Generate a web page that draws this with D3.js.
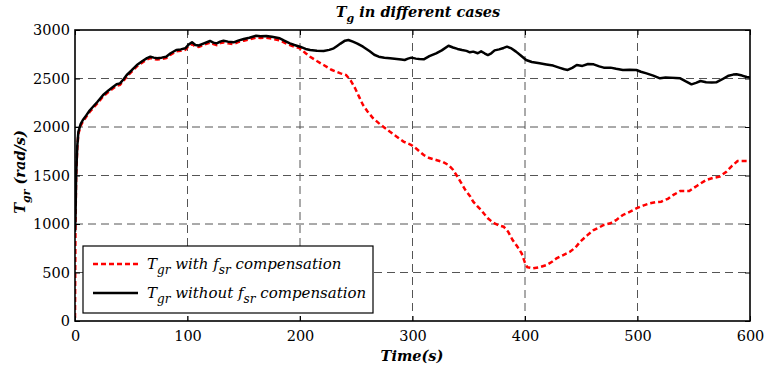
<!DOCTYPE html>
<html>
<head>
<meta charset="utf-8">
<script src="https://cdn.jsdelivr.net/npm/d3@7"></script>
<style>
  body { margin: 0; background: #fff; }
  svg { display: block; }
</style>
</head>
<body>
<svg id="svg" width="765" height="371"></svg>
<script>
// T_gr without f_sr compensation (black)
var timeWithout = [0,0.5,1,2,3,5,7,10,13,16,20,25,30,34,37,40,43,46,50,55,60,64,67,70,73,77,81,85,90,94,98,101,104,107,110,114,120,123,126,129,132,136,141,145,150,155,161,165,170,175,182,186,191,195,200,205,209,215,221,226,230,233,236,240,243,247,251,256,262,266,270,275,280,286,290,293,296,299,303,306,310,315,321,326,332,336,340,344,348,351,354,358,361,364,367,370,373,377,381,384,388,392,396,401,406,413,419,425,431,435,438,442,446,451,456,461,466,470,476,481,487,493,499,503,508,514,520,525,529,534,538,543,548,552,556,561,566,570,575,581,585,588,593,597,600];
var valuesWithout = [920,1100,1500,1800,1950,2030,2072,2120,2170,2209,2260,2330,2380,2415,2440,2450,2490,2536,2580,2639,2680,2710,2725,2715,2708,2715,2725,2760,2794,2800,2811,2850,2873,2845,2840,2860,2887,2870,2862,2880,2890,2880,2873,2890,2907,2920,2941,2935,2938,2930,2914,2890,2862,2845,2828,2805,2794,2785,2784,2795,2811,2835,2860,2890,2897,2880,2860,2828,2780,2745,2725,2715,2708,2700,2695,2691,2705,2715,2705,2700,2698,2730,2760,2790,2838,2820,2805,2794,2785,2770,2777,2760,2780,2760,2742,2760,2790,2800,2815,2828,2810,2777,2740,2691,2670,2657,2645,2633,2610,2595,2588,2610,2639,2630,2650,2646,2625,2612,2612,2600,2588,2590,2588,2570,2553,2530,2502,2510,2509,2505,2502,2470,2440,2455,2474,2462,2460,2461,2490,2529,2540,2543,2530,2515,2509];

// T_gr with f_sr compensation (red, dashed)
var timeWith = [0,0.4,1,2,3,5,7,10,13,16,20,25,30,34,37,40,43,46,50,55,60,64,67,70,73,77,81,85,90,94,98,101,104,107,110,114,120,123,126,129,132,136,141,145,150,155,161,165,170,175,182,186,191,195,200,205,209,215,221,228,236,241,245,249,253,256,260,265,270,274,280,286,292,299,303,310,315,321,327,332,336,339,343,347,351,354,358,361,364,367,370,373,377,381,385,389,393,397,400,402,407,413,419,424,428,434,440,445,449,455,461,466,470,476,481,487,493,499,505,511,516,521,527,532,538,546,553,561,567,573,579,584,589,595,600];
var valuesWith = [30,950,1480,1780,1930,2010,2055,2105,2155,2195,2245,2315,2365,2400,2425,2435,2475,2520,2565,2625,2665,2695,2710,2700,2695,2700,2710,2745,2780,2785,2795,2835,2855,2830,2825,2845,2870,2855,2845,2865,2872,2862,2855,2875,2890,2903,2922,2918,2920,2910,2893,2870,2845,2828,2810,2760,2725,2680,2639,2590,2553,2536,2480,2399,2300,2227,2160,2090,2040,2003,1950,1900,1850,1814,1780,1711,1680,1660,1640,1608,1560,1505,1430,1350,1290,1230,1180,1144,1100,1059,1030,1007,985,972,920,835,770,698,600,555,543,555,577,610,646,680,714,760,817,880,938,965,990,1007,1040,1093,1125,1161,1190,1213,1225,1230,1260,1300,1340,1340,1395,1454,1475,1488,1539,1600,1649,1650,1649];

var xTicks = [0,100,200,300,400,500,600];
var yTicks = [0,500,1000,1500,2000,2500,3000];

var svg = d3.select('#svg');
var padding = {top:30, right:15, bottom:50, left:75};
var chartArea = {
    "width": 765 - padding.left - padding.right,
    "height": 371 - padding.top - padding.bottom
};

var xScale = d3.scaleLinear().domain([0,600]).range([0,chartArea.width]);
var yScale = d3.scaleLinear().domain([0,3000]).range([chartArea.height,0]);

var serif = '"DejaVu Serif", serif';

var g = svg.append('g')
    .attr('transform','translate('+padding.left+','+padding.top+')');

// grid
g.append('g').selectAll('line').data(xTicks.slice(1,-1)).enter()
    .append('line')
    .attr('x1',function(d){return xScale(d);})
    .attr('x2',function(d){return xScale(d);})
    .attr('y1',0).attr('y2',chartArea.height)
    .attr('stroke','#555').attr('stroke-width',1)
    .attr('stroke-dasharray','8,5');
g.append('g').selectAll('line').data(yTicks.slice(1,-1)).enter()
    .append('line')
    .attr('y1',function(d){return yScale(d);})
    .attr('y2',function(d){return yScale(d);})
    .attr('x1',0).attr('x2',chartArea.width)
    .attr('stroke','#555').attr('stroke-width',1)
    .attr('stroke-dasharray','8,5');

// curves
g.append('clipPath').attr('id','clip').append('rect')
    .attr('width',chartArea.width).attr('height',chartArea.height);

var line = d3.line()
    .x(function(d){return xScale(d[0]);})
    .y(function(d){return yScale(d[1]);});

var without = timeWithout.map(function(t,i){return [t,valuesWithout[i]];});
var withC = timeWith.map(function(t,i){return [t,valuesWith[i]];});

g.append('path').datum(withC)
    .attr('clip-path','url(#clip)')
    .attr('d',line)
    .attr('fill','none').attr('stroke','#ff0000')
    .attr('stroke-width',2.5).attr('stroke-dasharray','5,3');

g.append('path').datum(without)
    .attr('clip-path','url(#clip)')
    .attr('d',line)
    .attr('fill','none').attr('stroke','#000')
    .attr('stroke-width',2.5).attr('stroke-linejoin','round');

// axes, ticks pointing inward
function styleAxis(sel){
    sel.select('.domain').remove();
    sel.selectAll('.tick line').attr('stroke','#000').attr('stroke-width',1);
    sel.selectAll('.tick text')
        .attr('fill','#000')
        .attr('font-family',serif)
        .attr('font-size','14.5px');
}

g.append('g')
    .attr('transform','translate(0,'+chartArea.height+')')
    .call(d3.axisBottom(xScale).tickValues(xTicks).tickSize(-5).tickPadding(10).tickFormat(d3.format('d')))
    .call(styleAxis);
g.append('g')
    .call(d3.axisLeft(yScale).tickValues(yTicks).tickSize(-5).tickPadding(5).tickFormat(d3.format('d')))
    .call(styleAxis);
g.append('g')
    .call(d3.axisTop(xScale).tickValues(xTicks).tickSize(-5).tickFormat(''))
    .call(styleAxis);
g.append('g')
    .attr('transform','translate('+chartArea.width+',0)')
    .call(d3.axisRight(yScale).tickValues(yTicks).tickSize(-5).tickFormat(''))
    .call(styleAxis);

g.append('rect')
    .attr('width',chartArea.width).attr('height',chartArea.height)
    .attr('fill','none').attr('stroke','#000').attr('stroke-width',1.6);

// title
var title = svg.append('text')
    .attr('x',418).attr('y',17)
    .attr('text-anchor','middle')
    .attr('font-family',serif).attr('font-size','14.5px')
    .attr('font-weight','bold').attr('font-style','italic');
title.append('tspan').text('T');
title.append('tspan').attr('dy',5).attr('font-size','11px').text('g');
title.append('tspan').attr('dy',-5).text(' in different cases');

// x label
svg.append('text')
    .attr('x',412).attr('y',361)
    .attr('text-anchor','middle')
    .attr('font-family',serif).attr('font-size','14.5px')
    .attr('font-weight','bold').attr('font-style','italic')
    .text('Time(s)');

// y label
var ylab = svg.append('text')
    .attr('transform','translate(25,172) rotate(-90)')
    .attr('text-anchor','middle')
    .attr('font-family',serif).attr('font-size','14.5px')
    .attr('font-weight','bold').attr('font-style','italic');
ylab.append('tspan').text('T');
ylab.append('tspan').attr('dy',5).attr('font-size','11px').text('gr');
ylab.append('tspan').attr('dy',-5).text(' (rad/s)');

// legend
var legend = svg.append('g');
legend.append('rect')
    .attr('x',83).attr('y',246).attr('width',290).attr('height',67)
    .attr('fill','#fff').attr('stroke','#000').attr('stroke-width',1.2);

var legendItems = [
    {label:'with', color:'#ff0000', dash:'5,3'},
    {label:'without', color:'#000', dash:null}
];
legendItems.forEach(function(item,i){
    var yy = 264 + i*29;
    legend.append('line')
        .attr('x1',93).attr('x2',138).attr('y1',yy).attr('y2',yy)
        .attr('stroke',item.color).attr('stroke-width',2.5)
        .attr('stroke-dasharray',item.dash);
    var t = legend.append('text')
        .attr('x',147).attr('y',yy+5)
        .attr('font-family',serif).attr('font-size','15px')
        .attr('font-style','italic');
    t.append('tspan').text('T');
    t.append('tspan').attr('dy',5).attr('font-size','12px').text('gr');
    t.append('tspan').attr('dy',-5).text(' '+item.label+' f');
    t.append('tspan').attr('dy',5).attr('font-size','12px').text('sr');
    t.append('tspan').attr('dy',-5).text(' compensation');
});
</script>
</body>
</html>
